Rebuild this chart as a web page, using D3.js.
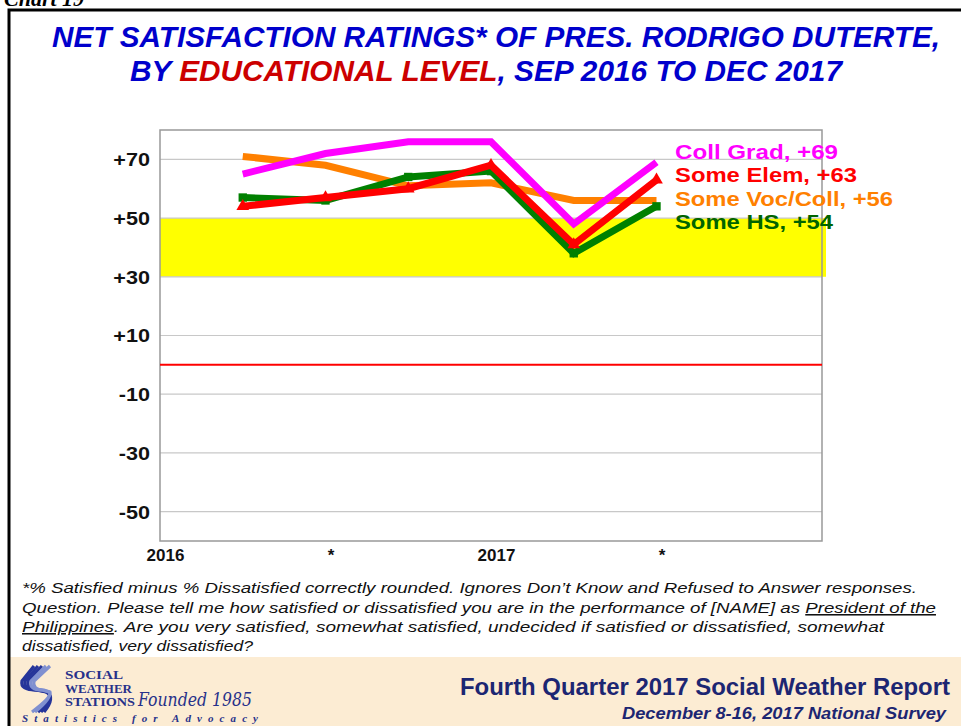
<!DOCTYPE html>
<html>
<head>
<meta charset="utf-8">
<script src="https://cdn.jsdelivr.net/npm/d3@7"></script>
<style>
  body { margin: 0; background: #fff; }
  svg { display: block; }
</style>
</head>
<body>
<div id="chart"></div>
<script>
/*
 * Net satisfaction by educational level chart
 */

// survey rounds, as quarter positions on the x axis
var surveys = ["Sep 2016", "Dec 2016", "Mar 2017", "Jun 2017", "Sep 2017", "Dec 2017"];
var surveyPos = [1, 2, 3, 4, 5, 6];

var collGrad  = [65, 72, 76, 76, 48, 69];
var someElem  = [54, 57, 60, 68, 41, 63];
var someVoc   = [71, 68, 61, 62, 56, 56];
var someHS    = [57, 56, 64, 66, 38, 54];

var seriesNames = ["Coll Grad, +69", "Some Elem, +63", "Some Voc/Coll, +56", "Some HS, +54"];

var yTicks = [70, 50, 30, 10, -10, -30, -50];
var xTickPos = [0, 2, 4, 6];
var xTickLabels = ["2016", "*", "2017", "*"];

var COLORS = {
  coll: "#ff00ff",
  elem: "#ff0000",
  voc: "#ff8000",
  hs: "#008000",
  hsText: "#006400",
  title: "#0000cc",
  titleRed: "#cc0000",
  navy: "#1c2672"
};

var W = 961, H = 726;
var narrow = "'Liberation Sans Narrow', 'Arial Narrow', 'Liberation Sans', Arial, sans-serif";
var sans = "'Liberation Sans', Arial, sans-serif";

var svg = d3.select("#chart").append("svg").attr("width", W).attr("height", H);

// stretch a text horizontally to a factor of its natural width
function stretch(sel, factor){
  sel.each(function(){
    var len = this.getComputedTextLength();
    d3.select(this).attr("textLength", len * factor).attr("lengthAdjust", "spacingAndGlyphs");
  });
}

// footer band
svg.append("rect").attr("x", 9).attr("y", 657).attr("width", W).attr("height", 70).style("fill", "#fcecd3");

// frame
svg.append("path").attr("d", "M9,726 V10 H961").style("fill", "none").style("stroke", "#000").style("stroke-width", 3);

// cut off chart number at the very top (as in the original)
svg.append("text").attr("x", 4).attr("y", 6).text("Chart 19")
  .style("font-family", "'Liberation Serif', serif").style("font-weight", "bold").style("font-style", "italic")
  .style("font-size", "22px");

/*
 * Title
 */
svg.append("text").attr("x", 52).attr("y", 47)
  .attr("textLength", 888).attr("lengthAdjust", "spacingAndGlyphs")
  .style("font-family", narrow).style("font-weight", "bold").style("font-style", "italic")
  .style("font-size", "30px").style("fill", COLORS.title)
  .text("NET SATISFACTION RATINGS* OF PRES. RODRIGO DUTERTE,");

var t2 = svg.append("text").attr("x", 130).attr("y", 81)
  .attr("textLength", 712).attr("lengthAdjust", "spacingAndGlyphs")
  .style("font-family", narrow).style("font-weight", "bold").style("font-style", "italic")
  .style("font-size", "30px").style("fill", COLORS.title);
t2.append("tspan").text("BY ");
t2.append("tspan").style("fill", COLORS.titleRed).text("EDUCATIONAL LEVEL");
t2.append("tspan").text(", SEP 2016 TO DEC 2017");

/*
 * Plot
 */
var plot = {left: 160, right: 822, top: 130, bottom: 541};

var x = d3.scaleLinear().domain([0, 8]).range([plot.left, plot.right]);
var y = d3.scaleLinear().domain([-60, 80]).range([plot.bottom, plot.top]);

var g = svg.append("g");

g.append("rect").attr("x", plot.left).attr("y", plot.top)
  .attr("width", plot.right - plot.left).attr("height", plot.bottom - plot.top)
  .style("fill", "#fff");

// yellow band between +30 and +50
g.append("rect").attr("x", plot.left).attr("y", y(50))
  .attr("width", plot.right - plot.left + 4).attr("height", y(30) - y(50))
  .style("fill", "#ffff00");

// gridlines
g.selectAll(".grid").data(yTicks).enter().append("line")
  .attr("x1", plot.left).attr("x2", plot.right)
  .attr("y1", function(d){ return y(d); }).attr("y2", function(d){ return y(d); })
  .style("stroke", "#c8c8c8").style("stroke-width", 1.2);

g.append("rect").attr("x", plot.left).attr("y", plot.top)
  .attr("width", plot.right - plot.left).attr("height", plot.bottom - plot.top)
  .style("fill", "none").style("stroke", "#999").style("stroke-width", 1.5);

// zero line
g.append("line").attr("x1", plot.left).attr("x2", plot.right)
  .attr("y1", y(0)).attr("y2", y(0))
  .style("stroke", "#ff0000").style("stroke-width", 2);

// y axis labels
var yAxis = d3.axisLeft(y).tickValues(yTicks).tickSize(0).tickPadding(10)
  .tickFormat(function(d){ return d > 0 ? "+" + d : String(d); });
svg.append("g").attr("transform", "translate(" + plot.left + ",0)").call(yAxis)
  .call(function(a){
    a.select(".domain").remove();
    a.selectAll("text").attr("dy", "0.36em")
      .style("font-family", sans)
      .style("font-weight", "bold").style("font-size", "18px").style("fill", "#111")
      .call(stretch, 1.2);
  });

// x axis labels
var xAxis = d3.axisBottom(x).tickValues(xTickPos).tickSize(0).tickPadding(8)
  .tickFormat(function(d, i){ return xTickLabels[i]; });
svg.append("g").attr("transform", "translate(5," + plot.bottom + ")").call(xAxis)
  .call(function(a){
    a.select(".domain").remove();
    a.selectAll("text")
      .style("font-family", sans)
      .style("font-weight", "bold").style("font-size", "17px").style("fill", "#111");
  });

/*
 * Series lines, drawn back to front
 */
var line = d3.line()
  .x(function(d, i){ return x(surveyPos[i]); })
  .y(function(d){ return y(d); });

function drawSeries(values, color, marker){
  g.append("path").datum(values).attr("d", line)
    .style("fill", "none").style("stroke", color)
    .style("stroke-width", 7).style("stroke-linejoin", "miter");

  if(marker){
    g.selectAll(null).data(values).enter().append("path")
      .attr("transform", function(d, i){ return "translate(" + x(surveyPos[i]) + "," + y(d) + ")"; })
      .attr("d", d3.symbol().type(marker).size(70))
      .style("fill", color);
  }
}

drawSeries(someVoc, COLORS.voc, null);
drawSeries(collGrad, COLORS.coll, null);
drawSeries(someHS, COLORS.hs, d3.symbolSquare);
drawSeries(someElem, COLORS.elem, d3.symbolTriangle);

/*
 * Series labels
 */
var labelColors = [COLORS.coll, COLORS.elem, COLORS.voc, COLORS.hsText];
var labelY = [159, 182, 206, 229];
var labelWidth = [163, 182, 218, 158];

svg.selectAll(".label").data(seriesNames).enter().append("text")
  .attr("x", 675).attr("y", function(d, i){ return labelY[i]; })
  .attr("textLength", function(d, i){ return labelWidth[i]; })
  .attr("lengthAdjust", "spacingAndGlyphs")
  .text(function(d){ return d; })
  .style("font-family", sans)
  .style("font-weight", "bold").style("font-size", "20px")
  .style("fill", function(d, i){ return labelColors[i]; });

/*
 * Footnote
 */
var noteStyle = function(sel){
  sel.style("font-family", narrow).style("font-style", "italic")
    .style("font-size", "15.5px").style("fill", "#111");
};

svg.append("text").attr("x", 22).attr("y", 593)
  .attr("textLength", 895).attr("lengthAdjust", "spacingAndGlyphs").call(noteStyle)
  .text("*% Satisfied minus % Dissatisfied correctly rounded. Ignores Don\u2019t Know and Refused to Answer responses.");

var n2 = svg.append("text").attr("x", 22).attr("y", 613)
  .attr("textLength", 914).attr("lengthAdjust", "spacingAndGlyphs").call(noteStyle);
n2.append("tspan").text("Question. Please tell me how satisfied or dissatisfied you are in the performance of [NAME] as ");
n2.append("tspan").style("text-decoration", "underline").text("President of the");

var n3 = svg.append("text").attr("x", 22).attr("y", 632)
  .attr("textLength", 862).attr("lengthAdjust", "spacingAndGlyphs").call(noteStyle);
n3.append("tspan").style("text-decoration", "underline").text("Philippines");
n3.append("tspan").text(".  Are you very satisfied, somewhat satisfied, undecided if satisfied or dissatisfied, somewhat");

svg.append("text").attr("x", 22).attr("y", 651)
  .attr("textLength", 231).attr("lengthAdjust", "spacingAndGlyphs").call(noteStyle)
  .text("dissatisfied, very dissatisfied?");

/*
 * Footer
 */
svg.append("text").attr("x", 460).attr("y", 695)
  .attr("textLength", 490).attr("lengthAdjust", "spacingAndGlyphs")
  .style("font-family", sans).style("font-weight", "bold")
  .style("font-size", "23px").style("fill", COLORS.navy)
  .text("Fourth Quarter 2017 Social Weather Report");

svg.append("text").attr("x", 622).attr("y", 719)
  .attr("textLength", 324).attr("lengthAdjust", "spacingAndGlyphs")
  .style("font-family", sans).style("font-weight", "bold")
  .style("font-style", "italic").style("font-size", "17px").style("fill", COLORS.navy)
  .text("December 8-16, 2017 National Survey");

// logo: stylised S made of stripes
var logo = svg.append("g").attr("transform", "translate(18,666)");
for(var k = 0; k < 5; k++){
  logo.append("path")
    .attr("d", "M" + (16 + k * 4) + ",0 L" + (4 + k * 3) + ",15 Q" + (2 + k * 3) + ",24 " + (18 + k * 2) + ",24 L" + (28 + k) + ",26 Q" + (38 - k) + ",31 " + (26 - k * 3) + ",46")
    .style("fill", "none").style("stroke", k < 3 ? "#26359a" : "#8090d0").style("stroke-width", 3.2);
}

var logoText = ["SOCIAL", "WEATHER", "STATIONS"];
var logoWidth = [58, 67, 70];
svg.selectAll(".logo").data(logoText).enter().append("text")
  .attr("x", 65).attr("y", function(d, i){ return 679 + i * 13.5; })
  .attr("textLength", function(d, i){ return logoWidth[i]; })
  .attr("lengthAdjust", "spacingAndGlyphs")
  .text(function(d){ return d; })
  .style("font-family", "'Liberation Serif', serif").style("font-weight", "bold")
  .style("font-size", "12px").style("fill", "#27318a");

svg.append("text").attr("x", 138).attr("y", 706)
  .style("font-family", "'DejaVu Serif', serif").style("font-style", "italic")
  .style("font-size", "19px").style("fill", "#27318a")
  .attr("textLength", 114).attr("lengthAdjust", "spacingAndGlyphs")
  .text("Founded 1985");

svg.append("text").attr("x", 22).attr("y", 722)
  .attr("textLength", 236).attr("lengthAdjust", "spacing")
  .style("font-family", "'Liberation Serif', serif").style("font-weight", "bold").style("font-style", "italic")
  .style("font-size", "11px").style("fill", "#27318a")
  .text("Statistics for Advocacy");
</script>
</body>
</html>
